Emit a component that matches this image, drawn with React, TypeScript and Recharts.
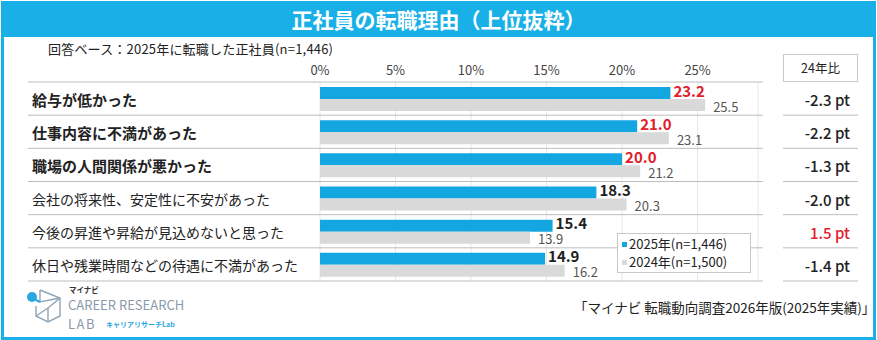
import { BarChart, Bar, XAxis, YAxis, CartesianGrid, Legend, LabelList } from 'recharts';

const categories = [
  '給与が低かった',
  '仕事内容に不満があった',
  '職場の人間関係が悪かった',
  '会社の将来性、安定性に不安があった',
  '今後の昇進や昇給が見込めないと思った',
  '休日や残業時間などの待遇に不満があった',
];
const highlighted = [true, true, true, false, false, false];
const values2025 = [23.2, 21.0, 20.0, 18.3, 15.4, 14.9];
const values2024 = [25.5, 23.1, 21.2, 20.3, 13.9, 16.2];
const diffs = [-2.3, -2.2, -1.3, -2.0, 1.5, -1.4];
const xTicks = [0, 5, 10, 15, 20, 25];

const FONT = '"Noto Sans CJK JP", "Noto Sans", sans-serif';
const CYAN = '#19B0E8';
const BLUE = '#14A6E1';
const GRAY = '#D9D9D9';
const RED = '#E0202A';
const HALF_ROW = 199 / 6 / 2;

const data = categories.map((name, i) => ({
  name,
  top: highlighted[i],
  y2025: values2025[i],
  y2024: values2024[i],
  diff: diffs[i],
}));

const LeftTick = ({ y, payload, index }: any) => {
  const row = data[index];
  return (
    <g>
      {index === 0 && <line x1={28} x2={763} y1={y - HALF_ROW} y2={y - HALF_ROW} stroke="#bdbdbd" />}
      <line x1={28} x2={763} y1={y + HALF_ROW} y2={y + HALF_ROW} stroke="#bdbdbd" />
      <text
        x={32}
        y={y}
        dy={1}
        dominantBaseline="central"
        fontSize={row.top ? 15 : 14}
        fontWeight={row.top ? 700 : 400}
        fill="#222"
        fontFamily={FONT}
      >
        {payload.value}
      </text>
    </g>
  );
};

const RightTick = ({ y, index }: any) => {
  const d = data[index].diff;
  return (
    <g>
      <line x1={783} x2={858} y1={y + HALF_ROW} y2={y + HALF_ROW} stroke="#bdbdbd" />
      <text
        x={850}
        y={y}
        dy={1}
        textAnchor="end"
        dominantBaseline="central"
        fontSize={15}
        fontWeight={500}
        fill={d > 0 ? RED : '#222'}
        fontFamily={FONT}
      >
        {d.toFixed(1)} pt
      </text>
    </g>
  );
};

// grid lines that carry on below the plot into the footer
const GridTail = ({ x, y }: any) => <line x1={x} x2={x} y1={y} y2={334} stroke="#e6e6e6" />;

const Label2025 = ({ x, y, width, height, value, index }: any) => (
  <text
    x={x + width + 3}
    y={y + height / 2 - 3}
    dominantBaseline="central"
    fontSize={15}
    fontWeight={700}
    fill={data[index].top ? RED : '#222'}
    fontFamily={FONT}
  >
    {Number(value).toFixed(1)}
  </text>
);

const Label2024 = ({ x, y, width, height, value }: any) => (
  <text
    x={x + width + 8}
    y={y + height / 2 + 1}
    dominantBaseline="central"
    fontSize={13}
    fill="#555"
    fontFamily={FONT}
  >
    {Number(value).toFixed(1)}
  </text>
);

const LegendBox = ({ payload }: any) => {
  const items = [...(payload || [])].sort((a: any, b: any) => (a.value < b.value ? 1 : -1));
  return (
    <div
      style={{
        border: '1px solid #c8c8c8',
        background: '#fff',
        padding: '1px 0 1px 4px',
        fontFamily: FONT,
        fontSize: 13,
        color: '#222',
        lineHeight: '18px',
      }}
    >
      {items.map((p: any) => (
        <div key={p.value} style={{ display: 'flex', alignItems: 'center' }}>
          <span style={{ width: 5, height: 5, background: p.color, marginRight: 2 }} />
          {p.value}
        </div>
      ))}
    </div>
  );
};

export default function App() {
  return (
    <div style={{ position: 'relative', width: 877, height: 340, background: '#fff', fontFamily: FONT }}>
      <style>{'body{margin:0}'}</style>
      <div
        style={{
          position: 'absolute',
          left: 1,
          top: 1,
          width: 869,
          height: 333,
          border: `3px solid ${CYAN}`,
        }}
      />
      <div
        style={{
          position: 'absolute',
          left: 1,
          top: 1,
          width: 875,
          height: 36,
          background: CYAN,
          color: '#fff',
          fontSize: 21,
          fontWeight: 700,
          textAlign: 'center',
          lineHeight: '36px',
        }}
      >
        正社員の転職理由（上位抜粋）
      </div>
      <div style={{ position: 'absolute', left: 48, top: 39, fontSize: 13, letterSpacing: 0.2, color: '#222' }}>
        回答ベース：2025年に転職した正社員(n=1,446)
      </div>
      <div
        style={{
          position: 'absolute',
          left: 783,
          top: 54,
          width: 73,
          height: 26,
          border: '1px solid #c8c8c8',
          fontSize: 12.5,
          lineHeight: '26px',
          textAlign: 'center',
          color: '#222',
        }}
      >
        24年比
      </div>
      <div style={{ position: 'absolute', left: 0, top: 0 }}>
        <BarChart
          width={877}
          height={340}
          data={data}
          layout="vertical"
          margin={{ top: 40, right: 0, bottom: 0, left: 0 }}
          barSize={12}
          barGap={0}
        >
          <CartesianGrid horizontal={false} stroke="#e6e6e6" />
          <XAxis
            type="number"
            orientation="top"
            domain={[0, 29]}
            ticks={xTicks}
            height={42}
            axisLine={false}
            tickLine={false}
            tickSize={0}
            tickMargin={7}
            tickFormatter={(v) => `${v}%`}
            tick={{ fill: '#444', fontSize: 13, fontFamily: FONT }}
          />
          <XAxis
            xAxisId="tail"
            type="number"
            orientation="bottom"
            domain={[0, 29]}
            ticks={xTicks}
            height={59}
            axisLine={false}
            tickLine={false}
            tickSize={0}
            tick={<GridTail />}
          />
          <YAxis yAxisId="left" type="category" dataKey="name" width={320} axisLine={false} tickLine={false} tick={<LeftTick />} />
          <YAxis
            yAxisId="right"
            orientation="right"
            type="category"
            dataKey="name"
            width={119}
            axisLine={false}
            tickLine={false}
            tick={<RightTick />}
          />
          <Legend
            layout="vertical"
            align="center"
            verticalAlign="middle"
            content={<LegendBox />}
            wrapperStyle={{ position: 'absolute', left: 617, top: 233, width: 134, bottom: 'auto', right: 'auto' }}
          />
          <Bar yAxisId="left" dataKey="y2025" name="2025年(n=1,446)" fill={BLUE} isAnimationActive={false}>
            <LabelList dataKey="y2025" content={<Label2025 />} />
          </Bar>
          <Bar yAxisId="left" dataKey="y2024" name="2024年(n=1,500)" fill={GRAY} isAnimationActive={false}>
            <LabelList dataKey="y2024" content={<Label2024 />} />
          </Bar>
        </BarChart>
      </div>
      <svg width={200} height={52} style={{ position: 'absolute', left: 20, top: 284 }}>
        <g fill="none" stroke="#8fa4b6" strokeWidth={1.4}>
          <path d="M20 6 L40 14 L40 32 L28 38 L16 32 L16 22" />
          <path d="M20 6 L20 18 L40 14" />
          <path d="M28 38 L28 24 L40 14" />
          <path d="M16 32 L28 24" />
        </g>
        <line x1={12} y1={14} x2={20} y2={18} stroke="#2aa7df" strokeWidth={2} />
        <circle cx={12} cy={13} r={5} fill="#2aa7df" />
        <text x={49} y={9} fontSize={7.5} fontWeight={700} fill="#333" fontFamily={FONT}>マイナビ</text>
        <text x={48} y={26} fontSize={13} fill="#8a9aab" fontFamily={FONT}>CAREER RESEARCH</text>
        <text x={48} y={45} fontSize={13} fill="#8a9aab" fontFamily={FONT} letterSpacing={1.5}>LAB</text>
        <text x={86} y={43} fontSize={7} fontWeight={700} fill="#2aa7df" fontFamily={FONT}>キャリアリサーチLab</text>
      </svg>
      <div style={{ position: 'absolute', left: 574, top: 297, fontSize: 13.5, color: '#222', whiteSpace: 'nowrap' }}>
        「マイナビ 転職動向調査2026年版(2025年実績)」
      </div>
    </div>
  );
}
